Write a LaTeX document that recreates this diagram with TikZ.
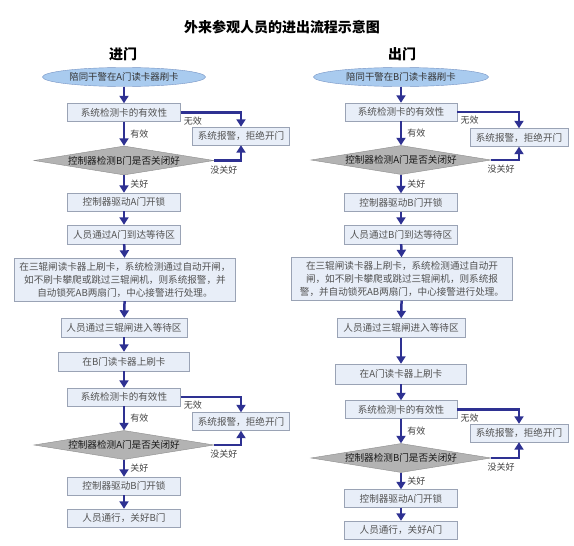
\documentclass[tikz,border=0pt]{standalone}
\usepackage{fontspec}
\newfontfamily\cjk{Noto Sans CJK SC}
\usetikzlibrary{arrows.meta,shapes.geometric}
\definecolor{flowblue}{HTML}{2E3192}
\definecolor{boxfill}{HTML}{E8EEF8}
\definecolor{boxline}{HTML}{9AA3B5}
\definecolor{diafill}{HTML}{B3B3B3}
\definecolor{dialine}{HTML}{8C8C8C}
\definecolor{ovalfill}{HTML}{A9CBEF}
\definecolor{ovalline}{HTML}{7593C4}
\tikzset{
	stepbox/.style={draw=boxline, fill=boxfill, inner sep=0pt, minimum width=113pt, minimum height=18pt, text=black!68, font=\cjk\fontsize{9.6}{13}\selectfont},
	test/.style={diamond, aspect=6.2, draw=dialine, fill=diafill, inner sep=0pt, minimum width=180pt, minimum height=29pt, text=black!90, font=\cjk\fontsize{9.6}{12}\selectfont},
	oval/.style={ellipse, draw=ovalline, fill=ovalfill, inner sep=0pt, minimum height=19pt, text=black!80, font=\cjk\fontsize{9.4}{12}\selectfont},
	flow/.style={draw=flowblue, line width=2.5pt, -{Triangle[width=9pt,length=7.5pt]}},
	tag/.style={text=black!75, font=\cjk\fontsize{9}{11}\selectfont, inner sep=1pt},
	head/.style={font=\cjk\bfseries\fontsize{14}{16}\selectfont},
}

\begin{document}
\begin{tikzpicture}[x=1pt, y=-1pt]
			%%%%% START %%%%%
			
			\fill[white] (0, 0) rectangle (574, 546);
			\useasboundingbox (0, 0) rectangle (574, 546);
			
			\node[head] (title) at (282, 27) {外来参观人员的进出流程示意图};
			\node[head] (inhead) at (123, 54) {进门};
			\node[head] (outhead) at (402, 54) {出门};
			
			% left column: in
			\node[oval, minimum width=163pt] (incard) at (124, 77) {陪同干警在A门读卡器刷卡};
			\node[stepbox] (incheck) at (124, 112.5) {系统检测卡的有效性};
			\node[stepbox, minimum width=97pt] (inalarm) at (241, 136) {系统报警，拒绝开门};
			\node[test] (indoor) at (124, 160.5) {控制器检测B门是否关闭好};
			\node[stepbox] (inunlock) at (124, 202) {控制器驱动A门开锁};
			\node[stepbox, minimum height=19pt] (inpass) at (124, 234.5) {人员通过A门到达等待区};
			\node[stepbox, minimum width=221pt, minimum height=43pt, text width=214pt, align=center] (inbig) at (125, 279.5) {在三辊闸读卡器上刷卡，系统检测通过自动开闸，\\如不刷卡攀爬或跳过三辊闸机，则系统报警，并\\自动锁死AB两扇门，中心接警进行处理。};
			\node[stepbox, minimum width=126pt, minimum height=19pt] (ingate) at (124, 327.5) {人员通过三辊闸进入等待区};
			\node[stepbox, minimum width=131pt, minimum height=19pt] (inswipe) at (124, 361.5) {在B门读卡器上刷卡};
			\node[stepbox] (incheckb) at (124, 397) {系统检测卡的有效性};
			\node[stepbox, minimum width=97pt] (inalarmb) at (241, 421.5) {系统报警，拒绝开门};
			\node[test] (indoorb) at (124, 445) {控制器检测A门是否关闭好};
			\node[stepbox] (inunlockb) at (124, 486) {控制器驱动B门开锁};
			\node[stepbox] (inend) at (124, 518) {人员通行，关好B门};
			
			\draw[flow] (incard) -- (incheck);
			\draw[flow] (incheck) -- node[tag, right=4pt] {有效} (indoor);
			\draw[flow] (incheck.east) -| node[tag, pos=0.1, below=2pt] {无效} (inalarm.north);
			\draw[flow] (indoor.east) -| node[tag, pos=0.18, below=3pt] {没关好} (inalarm.south);
			\draw[flow] (indoor) -- node[tag, right=4pt] {关好} (inunlock);
			\draw[flow] (inunlock) -- (inpass);
			\draw[flow] (inpass) -- (inbig);
			\draw[flow] (inbig) -- (ingate);
			\draw[flow] (ingate) -- (inswipe);
			\draw[flow] (inswipe) -- (incheckb);
			\draw[flow] (incheckb) -- node[tag, right=4pt] {有效} (indoorb);
			\draw[flow] (incheckb.east) -| node[tag, pos=0.1, below=2pt] {无效} (inalarmb.north);
			\draw[flow] (indoorb.east) -| node[tag, pos=0.18, below=3pt] {没关好} (inalarmb.south);
			\draw[flow] (indoorb) -- node[tag, right=4pt] {关好} (inunlockb);
			\draw[flow] (inunlockb) -- (inend);
			
			% right column: out
			\node[oval, minimum width=175pt] (outcard) at (401, 77) {陪同干警在B门读卡器刷卡};
			\node[stepbox, minimum width=112pt] (outcheck) at (401, 112) {系统检测卡的有效性};
			\node[stepbox, minimum width=98pt] (outalarm) at (519, 137.5) {系统报警，拒绝开门};
			\node[test] (outdoor) at (401, 160) {控制器检测A门是否关闭好};
			\node[stepbox] (outunlock) at (401, 202.5) {控制器驱动B门开锁};
			\node[stepbox, minimum height=19pt] (outpass) at (401, 234.5) {人员通过B门到达等待区};
			\node[stepbox, minimum width=221pt, minimum height=43pt, text width=214pt, align=center] (outbig) at (402, 279) {在三辊闸读卡器上刷卡，系统检测通过自动开\\闸，如不刷卡攀爬或跳过三辊闸机，则系统报\\警，并自动锁死AB两扇门，中心接警进行处理。};
			\node[stepbox, minimum width=128pt, minimum height=19pt] (outgate) at (401, 328) {人员通过三辊闸进入等待区};
			\node[stepbox, minimum width=131pt, minimum height=20pt] (outswipe) at (401, 374) {在A门读卡器上刷卡};
			\node[stepbox, minimum width=112pt] (outcheckb) at (401, 409.5) {系统检测卡的有效性};
			\node[stepbox, minimum width=98pt] (outalarmb) at (519, 433) {系统报警，拒绝开门};
			\node[test] (outdoorb) at (401, 458) {控制器检测B门是否关闭好};
			\node[stepbox] (outunlockb) at (401, 498.5) {控制器驱动A门开锁};
			\node[stepbox] (outend) at (401, 530) {人员通行，关好A门};
			
			\draw[flow] (outcard) -- (outcheck);
			\draw[flow] (outcheck) -- node[tag, right=4pt] {有效} (outdoor);
			\draw[flow] (outcheck.east) -| node[tag, pos=0.1, below=2pt] {无效} (outalarm.north);
			\draw[flow] (outdoor.east) -| node[tag, pos=0.18, below=3pt] {没关好} (outalarm.south);
			\draw[flow] (outdoor) -- node[tag, right=4pt] {关好} (outunlock);
			\draw[flow] (outunlock) -- (outpass);
			\draw[flow] (outpass) -- (outbig);
			\draw[flow] (outbig) -- (outgate);
			\draw[flow] (outgate) -- (outswipe);
			\draw[flow] (outswipe) -- (outcheckb);
			\draw[flow] (outcheckb) -- node[tag, right=4pt] {有效} (outdoorb);
			\draw[flow] (outcheckb.east) -| node[tag, pos=0.1, below=2pt] {无效} (outalarmb.north);
			\draw[flow] (outdoorb.east) -| node[tag, pos=0.18, below=3pt] {没关好} (outalarmb.south);
			\draw[flow] (outdoorb) -- node[tag, right=4pt] {关好} (outunlockb);
			\draw[flow] (outunlockb) -- (outend);
			
			%%%%% END %%%%%
\end{tikzpicture}
\end{document}
